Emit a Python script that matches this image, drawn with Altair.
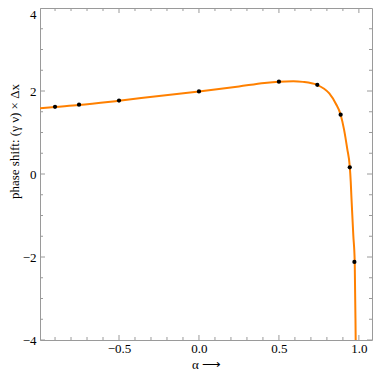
import altair as alt
import pandas as pd

# curve (alpha, phase shift)
curve_alpha = [-0.994, -0.9, -0.75, -0.5, -0.25, 0.0, 0.25, 0.41, 0.5, 0.59, 0.65,
               0.737, 0.815, 0.855, 0.886, 0.907, 0.927, 0.943, 0.949, 0.953, 0.959,
               0.965, 0.974, 0.980, 0.984]
curve_value = [1.585, 1.615, 1.66, 1.765, 1.88, 1.99, 2.11, 2.195, 2.225, 2.235, 2.22,
               2.15, 1.94, 1.70, 1.43, 1.075, 0.61, 0.18, -0.18, -0.53, -1.0,
               -1.47, -2.12, -4.0, -5.5]

# sample points (black dots)
dot_alpha = [-0.9, -0.75, -0.5, 0.0, 0.5, 0.74, 0.886, 0.943, 0.972]
dot_value = [1.62, 1.67, 1.77, 1.99, 2.225, 2.15, 1.43, 0.16, -2.12]

x_major = [-0.5, 0.0, 0.5, 1.0]
x_minor = [-0.9, -0.8, -0.7, -0.6, -0.4, -0.3, -0.2, -0.1, 0.1, 0.2, 0.3, 0.4,
           0.6, 0.7, 0.8, 0.9]
y_major = [-4, -2, 0, 2, 4]
y_minor = [-3.5, -3, -2.5, -1.5, -1, -0.5, 0.5, 1, 1.5, 2.5, 3, 3.5]

W, H = 332, 332
TICK = "#9a9a9a"
FONT = "Liberation Serif, Times New Roman, serif"
MAJ, MIN = 5, 3

xs = alt.Scale(domain=[-0.994, 1.082], nice=False, zero=False)
ys = alt.Scale(domain=[-4, 4], nice=False, zero=False)

curve_df = pd.DataFrame({"a": curve_alpha, "v": curve_value})
dot_df = pd.DataFrame({"a": dot_alpha, "v": dot_value})

line = alt.Chart(curve_df).mark_line(
    color="#FF8000", strokeWidth=2, interpolate="monotone", clip=True
).encode(
    x=alt.X("a:Q", scale=xs, title="α ⟶",
            axis=alt.Axis(values=x_major, format=".1f", labelPadding=2, titlePadding=3)),
    y=alt.Y("v:Q", scale=ys, title="phase shift: (γ ν) × Δx",
            axis=alt.Axis(values=y_major, format="d", labelPadding=4,
                          titleX=-19, titleY=133, titleAngle=270,
                          titleBaseline="bottom", titleAlign="center",
                          labelBaseline={"condition": {"test": "datum.value === 4",
                                                       "value": "top"},
                                         "value": "middle"})),
)

dots = alt.Chart(dot_df).mark_circle(color="black", size=18, opacity=1).encode(
    x=alt.X("a:Q"),
    y=alt.Y("v:Q"),
)


def hticks(vals, x0, x1):
    return alt.Chart(pd.DataFrame({"a": vals})).mark_rule(
        color=TICK, strokeWidth=1).encode(
        y=alt.Y("a:Q"), x=alt.value(x0), x2=alt.value(x1))


def vticks(vals, y0, y1):
    return alt.Chart(pd.DataFrame({"a": vals})).mark_rule(
        color=TICK, strokeWidth=1).encode(
        x=alt.X("a:Q"), y=alt.value(y0), y2=alt.value(y1))


ticks = [
    hticks(y_major, 0, MAJ), hticks(y_minor, 0, MIN),
    hticks(y_major, W, W - MAJ), hticks(y_minor, W, W - MIN),
    vticks(x_major, H, H - MAJ), vticks(x_minor, H, H - MIN),
    vticks(x_major, 0, MAJ), vticks(x_minor, 0, MIN),
]

chart = alt.layer(line, dots, *ticks).properties(
    width=W, height=H,
    autosize=alt.AutoSizeParams(type="none"),
    padding={"left": 32, "top": 0, "right": 2, "bottom": 34},
).configure_view(
    stroke=TICK, strokeWidth=1
).configure_axis(
    domain=False, ticks=False, grid=False,
    labelFont=FONT, labelFontSize=13, labelColor="black",
    titleFont=FONT, titleFontSize=13, titleFontWeight="normal", titleColor="black",
)

chart.save("out.html", embed_options={"renderer": "svg", "actions": False})
